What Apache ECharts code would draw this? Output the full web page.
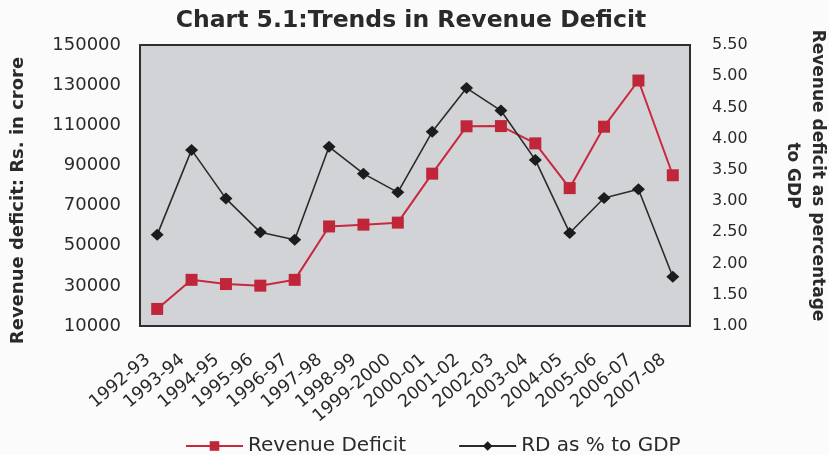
<html>
<head>
<meta charset="utf-8">
<script src="https://cdn.jsdelivr.net/npm/echarts@6/dist/echarts.min.js"></script>
<style>
  html, body { margin: 0; padding: 0; background: #fbfbfb; }
  #main { width: 829px; height: 455px; }
</style>
</head>
<body>
<div id="main"></div>
<script>
var years = ['1992-93', '1993-94', '1994-95', '1995-96', '1996-97', '1997-98', '1998-99', '1999-2000',
             '2000-01', '2001-02', '2002-03', '2003-04', '2004-05', '2005-06', '2006-07', '2007-08'];
// Rs. in crore
var revenueDeficit = [18500, 33000, 30900, 30100, 33000, 59600, 60500, 61500,
                      85900, 109500, 109600, 101000, 78700, 109300, 132300, 85100];
// per cent of GDP
var rdToGdp = [2.46, 3.82, 3.04, 2.50, 2.38, 3.87, 3.44, 3.14,
               4.11, 4.81, 4.45, 3.66, 2.49, 3.05, 3.19, 1.79];

var FONT = 'DejaVu Sans';
var myChart = echarts.init(document.getElementById('main'));

var option = {
    animation: false,
    textStyle: { fontFamily: FONT },
    title: {
        text: 'Chart 5.1:Trends in Revenue Deficit',
        left: 406,
        textAlign: 'center',
        top: 4,
        textStyle: { fontFamily: FONT, fontSize: 23.5, fontWeight: 'bold', color: '#2a2a2a' }
    },
    legend: {
        left: 180,
        top: 431,
        itemWidth: 57,
        itemHeight: 12,
        itemGap: 52,
        textStyle: { fontFamily: FONT, fontSize: 20, color: '#2a2a2a' },
        data: ['Revenue Deficit', 'RD as % to GDP']
    },
    grid: {
        left: 140,
        right: 139,
        top: 45,
        bottom: 129,
        outerBoundsMode: 'none',
        show: true,
        backgroundColor: '#d2d3d6',
        borderColor: '#2e2e2e',
        borderWidth: 2
    },
    xAxis: {
        type: 'category',
        data: years,
        boundaryGap: true,
        axisLine: { show: false },
        axisTick: { show: false },
        axisLabel: {
            interval: 0,
            rotate: 40,
            margin: 24,
            padding: [0, 12, 0, 0],
            fontFamily: FONT,
            fontSize: 17.5,
            color: '#2a2a2a'
        },
        splitLine: { show: false }
    },
    yAxis: [
        {
            type: 'value',
            min: 10000,
            max: 150000,
            interval: 10000,
            name: 'Revenue deficit: Rs. in crore',
            nameLocation: 'middle',
            nameGap: 113,
            nameTextStyle: {
                fontFamily: FONT, fontSize: 18, fontWeight: 'bold', color: '#2a2a2a',
                padding: [0, 30, 0, 0]
            },
            axisLine: { show: false },
            axisTick: { show: false },
            splitLine: { show: false },
            axisLabel: {
                margin: 19,
                fontFamily: FONT,
                fontSize: 18,
                color: '#2a2a2a',
                formatter: function (v) {
                    return (v - 10000) % 20000 === 0 ? String(v) : '';
                }
            }
        },
        {
            type: 'value',
            min: 1,
            max: 5.5,
            interval: 0.5,
            name: 'Revenue deficit as percentage\nto GDP',
            nameLocation: 'middle',
            nameRotate: -90,
            nameGap: 90,
            nameTextStyle: {
                fontFamily: FONT, fontSize: 17, fontWeight: 'bold', color: '#2a2a2a',
                lineHeight: 25,
                padding: [0, 20, 0, 0]
            },
            axisLine: { show: false },
            axisTick: { show: false },
            splitLine: { show: false },
            axisLabel: {
                margin: 22,
                fontFamily: FONT,
                fontSize: 16,
                color: '#2a2a2a',
                formatter: function (v) { return v.toFixed(2); }
            }
        }
    ],
    series: [
        {
            name: 'Revenue Deficit',
            type: 'line',
            yAxisIndex: 0,
            data: revenueDeficit,
            symbol: 'rect',
            symbolSize: 12,
            lineStyle: { color: '#c9283e', width: 2 },
            itemStyle: { color: '#c0263a' }
        },
        {
            name: 'RD as % to GDP',
            type: 'line',
            yAxisIndex: 1,
            data: rdToGdp,
            symbol: 'diamond',
            symbolSize: [13, 12],
            lineStyle: { color: '#2b2b2b', width: 1.6 },
            itemStyle: { color: '#1c1c1c' }
        }
    ]
};

myChart.setOption(option);
</script>
</body>
</html>
